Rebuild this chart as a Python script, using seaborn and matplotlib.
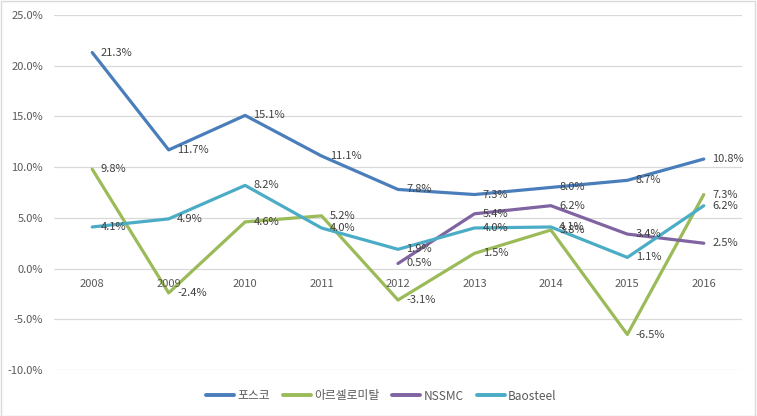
import matplotlib
matplotlib.use("Agg")
import matplotlib.pyplot as plt
import numpy as np
import pandas as pd
import seaborn as sns

# 데이터
years = ["2008", "2009", "2010", "2011", "2012", "2013", "2014", "2015", "2016"]
posco = [21.3, 11.7, 15.1, 11.1, 7.8, 7.3, 8.0, 8.7, 10.8]
arcelor = [9.8, -2.4, 4.6, 5.2, -3.1, 1.5, 3.8, -6.5, 7.3]
nssmc = [np.nan, np.nan, np.nan, np.nan, 0.5, 5.4, 6.2, 3.4, 2.5]
baosteel = [4.1, 4.9, 8.2, 4.0, 1.9, 4.0, 4.1, 1.1, 6.2]

series_names = ["포스코", "아르셀로미탈", "NSSMC", "Baosteel"]
series_vals = [posco, arcelor, nssmc, baosteel]
colors = ["#4A7EBB", "#9BBB59", "#8064A2", "#4BACC6"]

rows = []
for name, vals in zip(series_names, series_vals):
    for i, v in enumerate(vals):
        rows.append({"idx": i, "value": v, "company": name})
df = pd.DataFrame(rows).dropna()

sns.set_style("white")
plt.rcParams["font.family"] = ["Noto Sans CJK KR", "DejaVu Sans"]

fig = plt.figure(figsize=(7.57, 4.16), dpi=100)
ax = fig.add_axes([54 / 757, 1 - 370 / 416, (742 - 54) / 757, (370 - 15) / 416])

sns.lineplot(data=df, x="idx", y="value", hue="company", hue_order=series_names,
             palette=colors, linewidth=2.3, ax=ax, legend=True)

text_color = "#404040"
for name, vals, c in zip(series_names, series_vals, colors):
    for i, v in enumerate(vals):
        if np.isnan(v):
            continue
        ax.annotate(f"{v:.1f}%", (i, v), xytext=(6, 0), textcoords="offset points",
                    ha="left", va="center", fontsize=8, color=text_color)

# 연도 라벨 (0선 아래)
for i, y in enumerate(years):
    ax.annotate(y, (i, 0), xytext=(0, -11), textcoords="offset points",
                ha="center", va="center", fontsize=8, color="#595959")

ax.set_xlim(-0.5, len(years) - 0.5)
ax.set_ylim(-10, 25)
ax.set_yticks(np.arange(-10, 26, 5))
ax.set_yticklabels([f"{t:.1f}%" for t in np.arange(-10, 26, 5)], fontsize=8, color="#595959")
ax.set_xticks([])
ax.set_xlabel("")
ax.set_ylabel("")
ax.tick_params(axis="y", length=0, pad=8)
ax.grid(axis="y", color="#D9D9D9", linewidth=0.9)
ax.set_axisbelow(True)
for s in ax.spines.values():
    s.set_visible(False)

handles, labels = ax.get_legend_handles_labels()
for h in handles:
    h.set_linewidth(2.8)
ax.legend(handles, labels, loc="center", bbox_to_anchor=(381 / 757, 1 - 396 / 416),
          bbox_transform=fig.transFigure, ncol=4, frameon=False, fontsize=8.5,
          handlelength=2.4, columnspacing=1.1, handletextpad=0.25,
          labelcolor="#595959")

fig.patches.append(plt.Rectangle((0.001, 0.001), 0.997, 0.997, transform=fig.transFigure,
                                 fill=False, edgecolor="#D9D9D9", linewidth=1))

fig.savefig("out.png", dpi=100)
